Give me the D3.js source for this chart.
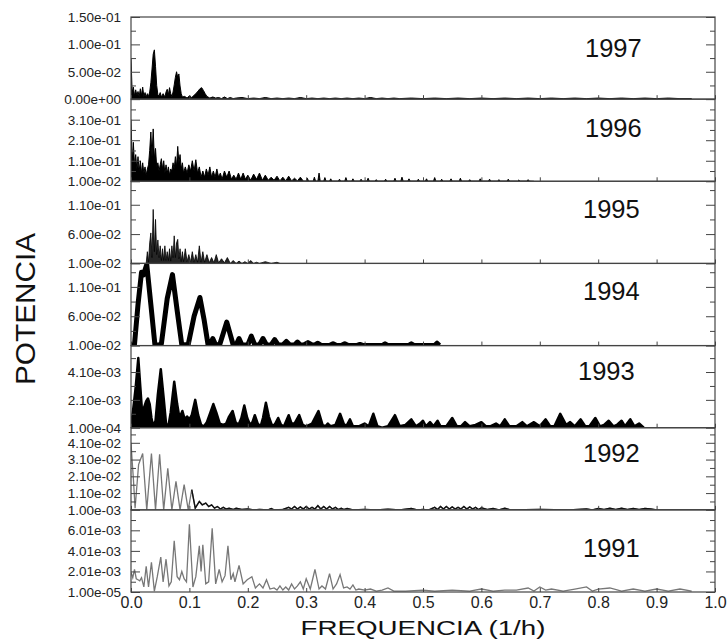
<!DOCTYPE html>
<html><head><meta charset="utf-8">
<script src="https://cdn.jsdelivr.net/npm/d3@7"></script>
<style>body{margin:0;background:#fff;} text{font-family:"Liberation Sans",Arial,Helvetica,sans-serif;}</style>
</head><body><svg id="c" width="727" height="639"></svg>
<script>
// ---------------- DATA ----------------
const years = ["1997","1996","1995","1994","1993","1992","1991"];
const xTicks = [0,0.1,0.2,0.3,0.4,0.5,0.6,0.7,0.8,0.9,1.0];
const xTickLabels = ["0.0","0.1","0.2","0.3","0.4","0.5","0.6","0.7","0.8","0.9","1.0"];

const dom1997 = [0,0.15], tick1997 = [0,0.05,0.1,0.15], lab1997 = ["0.00e+00","5.00e-02","1.00e-01","1.50e-01"], minor1997 = [0.025,0.075,0.125];
const dom1996 = [0.01,0.41], tick1996 = [0.01,0.11,0.21,0.31], lab1996 = ["1.00e-02","1.10e-01","2.10e-01","3.10e-01"], minor1996 = [0.06,0.16,0.26,0.36];
const dom1995 = [0.01,0.15], tick1995 = [0.01,0.06,0.11], lab1995 = ["1.00e-02","6.00e-02","1.10e-01"], minor1995 = [0.035,0.085,0.135];
const dom1994 = [0.01,0.15], tick1994 = [0.01,0.06,0.11], lab1994 = ["1.00e-02","6.00e-02","1.10e-01"], minor1994 = [0.035,0.085,0.135];
const dom1993 = [0.0001,0.006], tick1993 = [0.0001,0.0021,0.0041], lab1993 = ["1.00e-04","2.10e-03","4.10e-03"], minor1993 = [0.0011,0.0031,0.0051];
const dom1992 = [0.001,0.05], tick1992 = [0.001,0.011,0.021,0.031,0.041], lab1992 = ["1.00e-03","1.10e-02","2.10e-02","3.10e-02","4.10e-02"], minor1992 = [0.006,0.016,0.026,0.036,0.046];
const dom1991 = [0.00001,0.008], tick1991 = [0.00001,0.00201,0.00401,0.00601], lab1991 = ["1.00e-05","2.01e-03","4.01e-03","6.01e-03"], minor1991 = [0.00101,0.00301,0.00501,0.00701];

// [frequency (1/h), power]
const data1997 = [[0,0.075],[0.002,0.012],[0.004,0.022],[0.006,0.006],[0.008,0.017],[0.010,0.007],[0.012,0.014],[0.014,0.005],[0.016,0.019],[0.018,0.007],[0.020,0.022],[0.022,0.005],[0.024,0.012],[0.026,0.004],[0.028,0.01],[0.030,0.005],[0.032,0.013],[0.034,0.03],[0.036,0.055],[0.038,0.082],[0.040,0.09],[0.042,0.06],[0.044,0.025],[0.046,0.008],[0.048,0.006],[0.050,0.012],[0.052,0.004],[0.055,0.01],[0.058,0.004],[0.060,0.013],[0.062,0.018],[0.064,0.008],[0.066,0.021],[0.068,0.01],[0.070,0.005],[0.072,0.013],[0.074,0.026],[0.076,0.04],[0.078,0.05],[0.080,0.04],[0.082,0.046],[0.084,0.024],[0.086,0.01],[0.088,0.004],[0.092,0.005],[0.096,0.002],[0.100,0.006],[0.104,0.003],[0.108,0.007],[0.112,0.011],[0.115,0.015],[0.118,0.019],[0.121,0.021],[0.124,0.016],[0.127,0.01],[0.130,0.005],[0.135,0.002],[0.140,0.004],[0.145,0.002],[0.150,0.003],[0.155,0.001],[0.160,0.004],[0.165,0.001],[0.170,0.003],[0.175,0.001],[0.180,0.002],[0.190,0.003],[0.200,0.001],[0.210,0.002],[0.220,0.001],[0.230,0.003],[0.240,0.001],[0.250,0.002],[0.260,0.001],[0.270,0.002],[0.280,0.001],[0.290,0.003],[0.300,0.001],[0.310,0.002],[0.320,0.001],[0.330,0.002],[0.340,0.001],[0.350,0.002],[0.360,0.001],[0.370,0.002],[0.380,0.001],[0.390,0.002],[0.400,0.001],[0.410,0.003],[0.420,0.001],[0.430,0.002],[0.440,0.001],[0.450,0.002],[0.460,0.001],[0.480,0.002],[0.500,0.001],[0.520,0.002],[0.540,0.001],[0.560,0.002],[0.580,0.001],[0.600,0.002],[0.620,0.001],[0.640,0.002],[0.660,0.001],[0.680,0.002],[0.700,0.001],[0.720,0.002],[0.740,0.001],[0.760,0.002],[0.780,0.001],[0.800,0.002],[0.820,0.001],[0.840,0.002],[0.860,0.001],[0.880,0.002],[0.900,0.001],[0.920,0.002],[0.940,0.001],[0.960,0.001]];

const data1996 = [[0,0.31],[0.002,0.1],[0.004,0.2],[0.006,0.09],[0.008,0.14],[0.010,0.07],[0.012,0.13],[0.014,0.06],[0.016,0.11],[0.018,0.05],[0.020,0.1],[0.022,0.05],[0.024,0.08],[0.026,0.04],[0.028,0.07],[0.030,0.09],[0.032,0.16],[0.034,0.25],[0.036,0.13],[0.038,0.265],[0.040,0.12],[0.042,0.17],[0.044,0.08],[0.046,0.1],[0.048,0.06],[0.050,0.09],[0.052,0.12],[0.054,0.07],[0.056,0.11],[0.058,0.05],[0.060,0.09],[0.062,0.05],[0.064,0.08],[0.066,0.04],[0.068,0.07],[0.070,0.06],[0.072,0.1],[0.074,0.07],[0.076,0.13],[0.078,0.08],[0.080,0.18],[0.082,0.1],[0.084,0.14],[0.086,0.07],[0.088,0.1],[0.090,0.05],[0.093,0.08],[0.096,0.05],[0.099,0.09],[0.102,0.06],[0.105,0.11],[0.108,0.06],[0.111,0.115],[0.114,0.05],[0.117,0.08],[0.120,0.03],[0.123,0.06],[0.126,0.03],[0.129,0.07],[0.132,0.04],[0.135,0.08],[0.138,0.03],[0.141,0.06],[0.144,0.03],[0.147,0.07],[0.150,0.03],[0.153,0.05],[0.156,0.02],[0.160,0.06],[0.164,0.03],[0.168,0.06],[0.172,0.02],[0.176,0.04],[0.180,0.02],[0.184,0.05],[0.188,0.02],[0.192,0.05],[0.196,0.02],[0.200,0.04],[0.205,0.015],[0.210,0.045],[0.215,0.02],[0.220,0.05],[0.225,0.015],[0.230,0.04],[0.235,0.015],[0.240,0.03],[0.245,0.015],[0.250,0.035],[0.255,0.012],[0.260,0.03],[0.265,0.012],[0.270,0.035],[0.275,0.012],[0.280,0.025],[0.285,0.012],[0.290,0.03],[0.295,0.011],[0.300,0.011],[0.302,0.025],[0.304,0.011],[0.312,0.011],[0.314,0.03],[0.316,0.011],[0.320,0.011],[0.322,0.05],[0.324,0.011],[0.330,0.011],[0.332,0.028],[0.334,0.011],[0.340,0.011],[0.342,0.022],[0.344,0.011],[0.355,0.011],[0.357,0.02],[0.359,0.011],[0.366,0.011],[0.368,0.028],[0.370,0.011],[0.378,0.011],[0.380,0.022],[0.382,0.011],[0.392,0.011],[0.394,0.02],[0.396,0.011],[0.404,0.011],[0.406,0.025],[0.408,0.011],[0.418,0.011],[0.420,0.018],[0.422,0.011],[0.434,0.011],[0.436,0.02],[0.438,0.011],[0.450,0.011],[0.452,0.025],[0.454,0.011],[0.462,0.011],[0.464,0.03],[0.466,0.011],[0.474,0.011],[0.476,0.022],[0.478,0.011],[0.490,0.011],[0.492,0.02],[0.494,0.011],[0.504,0.011],[0.506,0.022],[0.508,0.011],[0.518,0.011],[0.520,0.028],[0.522,0.011],[0.530,0.011],[0.532,0.02],[0.534,0.011],[0.546,0.011],[0.548,0.022],[0.550,0.011],[0.562,0.011],[0.564,0.025],[0.566,0.011],[0.578,0.011],[0.580,0.018],[0.582,0.011],[0.596,0.011],[0.598,0.022],[0.600,0.011],[0.612,0.011],[0.614,0.02],[0.616,0.011],[0.628,0.011],[0.630,0.018],[0.632,0.011],[0.644,0.011],[0.646,0.02],[0.648,0.011],[0.662,0.011],[0.664,0.016],[0.666,0.011],[0.678,0.011],[0.680,0.018],[0.682,0.011],[0.690,0.01]];

const data1995 = [[0,0.01],[0.026,0.01],[0.028,0.03],[0.030,0.012],[0.032,0.045],[0.034,0.062],[0.036,0.02],[0.038,0.102],[0.040,0.03],[0.042,0.085],[0.044,0.025],[0.046,0.05],[0.048,0.02],[0.050,0.04],[0.052,0.015],[0.054,0.035],[0.056,0.015],[0.058,0.04],[0.060,0.015],[0.062,0.03],[0.064,0.015],[0.066,0.035],[0.068,0.014],[0.070,0.04],[0.072,0.02],[0.074,0.057],[0.076,0.02],[0.078,0.045],[0.080,0.051],[0.082,0.018],[0.084,0.035],[0.086,0.013],[0.088,0.03],[0.090,0.013],[0.093,0.035],[0.096,0.013],[0.099,0.025],[0.102,0.012],[0.105,0.03],[0.108,0.012],[0.111,0.025],[0.114,0.012],[0.117,0.04],[0.120,0.012],[0.123,0.03],[0.126,0.012],[0.130,0.025],[0.134,0.011],[0.138,0.02],[0.142,0.011],[0.146,0.025],[0.150,0.011],[0.155,0.018],[0.160,0.011],[0.165,0.02],[0.170,0.01],[0.175,0.015],[0.180,0.01],[0.185,0.014],[0.190,0.01],[0.195,0.013],[0.200,0.01],[0.205,0.015],[0.210,0.01],[0.215,0.012],[0.220,0.01],[0.230,0.013],[0.240,0.01],[0.250,0.012],[0.255,0.01]];

const data1994 = [[0,0.01],[0.006,0.012],[0.012,0.08],[0.018,0.135],[0.021,0.13],[0.027,0.148],[0.034,0.08],[0.041,0.011],[0.048,0.011],[0.052,0.013],[0.062,0.09],[0.071,0.131],[0.079,0.07],[0.087,0.011],[0.098,0.012],[0.108,0.06],[0.118,0.092],[0.125,0.055],[0.132,0.011],[0.136,0.011],[0.140,0.022],[0.145,0.011],[0.152,0.012],[0.164,0.05],[0.175,0.011],[0.180,0.011],[0.185,0.022],[0.190,0.011],[0.200,0.011],[0.206,0.026],[0.212,0.011],[0.220,0.011],[0.226,0.022],[0.232,0.011],[0.240,0.011],[0.246,0.02],[0.252,0.011],[0.260,0.011],[0.266,0.017],[0.272,0.011],[0.280,0.011],[0.285,0.016],[0.290,0.011],[0.296,0.011],[0.303,0.015],[0.310,0.011],[0.315,0.011],[0.320,0.014],[0.326,0.01],[0.340,0.01],[0.346,0.013],[0.352,0.01],[0.360,0.01],[0.366,0.013],[0.372,0.01],[0.386,0.01],[0.392,0.012],[0.398,0.01],[0.430,0.01],[0.435,0.013],[0.440,0.01],[0.475,0.01],[0.480,0.013],[0.485,0.01],[0.520,0.01],[0.524,0.014],[0.528,0.01]];

const data1993 = [[0,0.0002],[0.004,0.0015],[0.008,0.003],[0.0125,0.0051],[0.016,0.003],[0.019,0.0012],[0.022,0.0015],[0.026,0.002],[0.029,0.0022],[0.032,0.0018],[0.035,0.0008],[0.038,0.0002],[0.042,0.0006],[0.046,0.0025],[0.051,0.0043],[0.056,0.0022],[0.060,0.0004],[0.064,0.0002],[0.068,0.0012],[0.074,0.0034],[0.079,0.0018],[0.083,0.0008],[0.088,0.0013],[0.092,0.0007],[0.096,0.0009],[0.100,0.0007],[0.104,0.001],[0.110,0.0021],[0.115,0.001],[0.120,0.0003],[0.125,0.0002],[0.130,0.0005],[0.136,0.0012],[0.141,0.0018],[0.146,0.0012],[0.152,0.0004],[0.158,0.0003],[0.163,0.0004],[0.168,0.0009],[0.174,0.0013],[0.179,0.0005],[0.184,0.0003],[0.189,0.0008],[0.194,0.0017],[0.199,0.0008],[0.204,0.0003],[0.208,0.0005],[0.212,0.001],[0.217,0.0004],[0.222,0.0002],[0.226,0.0008],[0.231,0.0019],[0.236,0.0009],[0.241,0.0003],[0.246,0.0003],[0.252,0.0008],[0.257,0.0003],[0.262,0.0002],[0.266,0.0006],[0.270,0.001],[0.275,0.0004],[0.280,0.0004],[0.288,0.001],[0.294,0.0003],[0.300,0.0002],[0.310,0.0004],[0.321,0.0013],[0.328,0.0003],[0.333,0.0002],[0.337,0.0004],[0.342,0.0002],[0.350,0.0003],[0.358,0.0011],[0.365,0.0003],[0.370,0.0003],[0.375,0.0007],[0.380,0.0002],[0.390,0.0002],[0.400,0.0004],[0.407,0.0002],[0.415,0.0011],[0.422,0.0002],[0.430,0.0001],[0.440,0.0002],[0.452,0.001],[0.460,0.0002],[0.470,0.0003],[0.480,0.0007],[0.488,0.0002],[0.495,0.0004],[0.500,0.0006],[0.505,0.0002],[0.512,0.0005],[0.518,0.0002],[0.525,0.0006],[0.530,0.0002],[0.540,0.0002],[0.550,0.0008],[0.558,0.0002],[0.565,0.0002],[0.572,0.0005],[0.580,0.0002],[0.590,0.0003],[0.600,0.0005],[0.608,0.0002],[0.615,0.0002],[0.625,0.0004],[0.632,0.0002],[0.640,0.0007],[0.648,0.0002],[0.660,0.0002],[0.670,0.0005],[0.678,0.0002],[0.690,0.0005],[0.700,0.0002],[0.710,0.0007],[0.718,0.0002],[0.725,0.0002],[0.735,0.0011],[0.745,0.0003],[0.752,0.0005],[0.760,0.0002],[0.770,0.0007],[0.778,0.0002],[0.785,0.0002],[0.795,0.0008],[0.803,0.0002],[0.810,0.0003],[0.818,0.0006],[0.826,0.0002],[0.832,0.0003],[0.840,0.0006],[0.846,0.0002],[0.855,0.0007],[0.862,0.0002],[0.870,0.0004],[0.878,0.0001]];

const data1992 = [[0,0.041],[0.002,0.03],[0.004,0.02],[0.007,0.002],[0.013,0.028],[0.020,0.0346],[0.027,0.001],[0.035,0.0346],[0.042,0.001],[0.049,0.0342],[0.056,0.001],[0.063,0.0258],[0.070,0.001],[0.077,0.018],[0.084,0.001],[0.091,0.016],[0.098,0.001],[0.104,0.013],[0.110,0.002],[0.117,0.006],[0.122,0.004],[0.128,0.005],[0.133,0.003],[0.138,0.004],[0.143,0.002],[0.148,0.003],[0.153,0.0015],[0.158,0.0025],[0.163,0.0015],[0.168,0.002],[0.175,0.0012],[0.180,0.002],[0.190,0.0012],[0.200,0.0015],[0.210,0.001],[0.220,0.0012],[0.235,0.001],[0.240,0.0018],[0.245,0.001],[0.260,0.0012],[0.270,0.0025],[0.275,0.0015],[0.280,0.003],[0.285,0.0015],[0.290,0.0028],[0.295,0.0015],[0.300,0.003],[0.305,0.0015],[0.310,0.0025],[0.315,0.0015],[0.320,0.0035],[0.325,0.0015],[0.330,0.003],[0.335,0.0015],[0.340,0.003],[0.345,0.0015],[0.350,0.0025],[0.355,0.0012],[0.360,0.002],[0.365,0.0012],[0.370,0.0018],[0.380,0.001],[0.400,0.0012],[0.420,0.001],[0.440,0.0014],[0.460,0.001],[0.480,0.0018],[0.490,0.001],[0.500,0.0012],[0.510,0.001],[0.520,0.0025],[0.525,0.0012],[0.530,0.003],[0.535,0.0015],[0.540,0.003],[0.545,0.0015],[0.550,0.0028],[0.555,0.0015],[0.560,0.0025],[0.565,0.0015],[0.570,0.003],[0.575,0.0015],[0.580,0.0028],[0.585,0.0015],[0.590,0.0025],[0.595,0.0012],[0.600,0.0022],[0.610,0.0012],[0.620,0.0018],[0.630,0.001],[0.640,0.002],[0.650,0.001],[0.700,0.0012],[0.750,0.001],[0.780,0.0015],[0.790,0.001],[0.800,0.0018],[0.810,0.0012],[0.820,0.002],[0.830,0.0012],[0.840,0.002],[0.850,0.0012],[0.860,0.0018],[0.870,0.0012],[0.880,0.0018],[0.890,0.0015],[0.900,0.001],[0.950,0.001],[1.0,0.001]];

const data1991 = [[0,0.0019],[0.003,0.0014],[0.006,0.0022],[0.009,0.0013],[0.012,0.0012],[0.015,0.0011],[0.018,0.0014],[0.022,0.0005],[0.026,0.0025],[0.030,0.0005],[0.035,0.0029],[0.040,0.0001],[0.045,0.0015],[0.051,0.0034],[0.055,0.001],[0.060,0.0032],[0.065,0.0006],[0.069,0.001],[0.074,0.005],[0.079,0.0015],[0.083,0.0012],[0.087,0.002],[0.091,0.0013],[0.095,0.001],[0.100,0.0066],[0.106,0.0005],[0.111,0.0015],[0.117,0.0045],[0.120,0.002],[0.123,0.0046],[0.128,0.0008],[0.133,0.001],[0.139,0.0062],[0.145,0.0008],[0.151,0.0022],[0.156,0.001],[0.161,0.0016],[0.166,0.0045],[0.171,0.0012],[0.175,0.0018],[0.178,0.001],[0.185,0.0026],[0.192,0.0008],[0.199,0.0012],[0.207,0.0015],[0.213,0.0004],[0.220,0.0008],[0.226,0.0004],[0.232,0.0012],[0.238,0.0003],[0.245,0.0004],[0.250,0.0002],[0.255,0.0006],[0.260,0.0002],[0.265,0.0005],[0.270,0.0002],[0.275,0.0008],[0.280,0.0003],[0.285,0.0006],[0.290,0.001],[0.295,0.0003],[0.300,0.0013],[0.307,0.0003],[0.315,0.0022],[0.322,0.0003],[0.327,0.0006],[0.333,0.0003],[0.340,0.0018],[0.346,0.0003],[0.352,0.0008],[0.358,0.0017],[0.364,0.0004],[0.370,0.0005],[0.375,0.0003],[0.380,0.0007],[0.385,0.0002],[0.390,0.0003],[0.400,0.0002],[0.410,0.0003],[0.420,0.0001],[0.430,0.0002],[0.440,0.0004],[0.450,0.0001],[0.470,0.0001],[0.500,0.0002],[0.520,0.0001],[0.550,0.0002],[0.580,0.0001],[0.600,0.0003],[0.620,0.0001],[0.640,0.0002],[0.660,0.0002],[0.680,0.0004],[0.690,0.0001],[0.700,0.0005],[0.710,0.0002],[0.720,0.0003],[0.740,0.0001],[0.760,0.0003],[0.780,0.0005],[0.790,0.0001],[0.800,0.0003],[0.820,0.0004],[0.840,0.0001],[0.860,0.0003],[0.880,0.0001],[0.900,0.0003],[0.920,0.0001],[0.940,0.0003],[0.960,0.0001]];

// ---------------- CHART ----------------
const svg = d3.select("#c");
const L = 131, R = 715, T = 17, B = 592;
const ph = (B - T) / years.length;
const x = d3.scaleLinear().domain([0, 1]).range([L, R]);

const panels = [
  {year:"1997", data:data1997, dom:dom1997, tick:tick1997, lab:lab1997, minor:minor1997, mode:"fill", yx:585, yb:57},
  {year:"1996", data:data1996, dom:dom1996, tick:tick1996, lab:lab1996, minor:minor1996, mode:"fill", yx:585, yb:137},
  {year:"1995", data:data1995, dom:dom1995, tick:tick1995, lab:lab1995, minor:minor1995, mode:"spike", yx:583, yb:218},
  {year:"1994", data:data1994, dom:dom1994, tick:tick1994, lab:lab1994, minor:minor1994, mode:"thick", yx:583, yb:300},
  {year:"1993", data:data1993, dom:dom1993, tick:tick1993, lab:lab1993, minor:minor1993, mode:"band", yx:578, yb:380},
  {year:"1992", data:data1992, dom:dom1992, tick:tick1992, lab:lab1992, minor:minor1992, mode:"gray2", yx:583, yb:462},
  {year:"1991", data:data1991, dom:dom1991, tick:tick1991, lab:lab1991, minor:minor1991, mode:"gray", yx:583, yb:557}
];

const defs = svg.append("defs");

panels.forEach((p, i) => {
  const top = T + i * ph, bot = top + ph;
  const y = d3.scaleLinear().domain(p.dom).range([bot, top]);
  const g = svg.append("g");
  const cid = "clip" + i;
  defs.append("clipPath").attr("id", cid).append("rect")
    .attr("x", L).attr("y", top).attr("width", R - L).attr("height", ph);

  const dg = g.append("g").attr("clip-path", `url(#${cid})`);
  const line = d3.line().x(d => x(d[0])).y(d => y(d[1]));
  const area = d3.area().x(d => x(d[0])).y0(y(p.dom[0])).y1(d => y(d[1]));

  if (p.mode === "fill") {
    dg.append("path").datum(p.data).attr("d", area).attr("fill", "#000");
    dg.append("path").datum(p.data).attr("d", line).attr("fill", "none").attr("stroke", "#000").attr("stroke-width", 1);
  } else if (p.mode === "spike") {
    dg.append("path").datum(p.data).attr("d", area).attr("fill", "#000").attr("fill-opacity", 0.85);
    dg.append("path").datum(p.data).attr("d", line).attr("fill", "none").attr("stroke", "#000").attr("stroke-width", 0.8);
  } else if (p.mode === "thick") {
    dg.append("path").datum(p.data).attr("d", line).attr("fill", "none").attr("stroke", "#000")
      .attr("stroke-width", 5).attr("stroke-linejoin", "round");
  } else if (p.mode === "band") {
    dg.append("path").datum(p.data).attr("d", area).attr("fill", "#000");
    dg.append("path").datum(p.data).attr("d", line).attr("fill", "none").attr("stroke", "#000")
      .attr("stroke-width", 2.5).attr("stroke-linejoin", "round");
  } else if (p.mode === "gray2") {
    dg.append("path").datum(p.data).attr("d", line).attr("fill", "none").attr("stroke", "#777").attr("stroke-width", 1.3);
    dg.append("path").datum(p.data.filter(d => d[0] >= 0.104)).attr("d", line).attr("fill", "none")
      .attr("stroke", "#111").attr("stroke-width", 1.4);
  } else {
    dg.append("path").datum(p.data).attr("d", line).attr("fill", "none").attr("stroke", "#777").attr("stroke-width", 1.3);
  }

  // left axis: major ticks with labels
  const la = g.append("g").attr("transform", `translate(${L},0)`)
    .call(d3.axisLeft(y).tickValues(p.tick).tickSizeInner(-9).tickSizeOuter(0).tickPadding(10)
      .tickFormat((d, k) => p.lab[k]));
  la.select(".domain").remove();
  la.selectAll("line").attr("stroke", "#444");
  la.selectAll("text").attr("font-size", 13.5).attr("fill", "#222")
    .attr("font-family", "'Liberation Sans', Arial, sans-serif");
  const lm = g.append("g").attr("transform", `translate(${L},0)`)
    .call(d3.axisLeft(y).tickValues(p.minor).tickSize(-5).tickFormat(""));
  lm.select(".domain").remove();
  lm.selectAll("line").attr("stroke", "#444");

  // right axis ticks
  const ra = g.append("g").attr("transform", `translate(${R},0)`)
    .call(d3.axisRight(y).tickValues(p.tick).tickSize(-9).tickFormat(""));
  ra.select(".domain").remove();
  ra.selectAll("line").attr("stroke", "#444");
  const rm = g.append("g").attr("transform", `translate(${R},0)`)
    .call(d3.axisRight(y).tickValues(p.minor).tickSize(-5).tickFormat(""));
  rm.select(".domain").remove();
  rm.selectAll("line").attr("stroke", "#444");

  // x ticks at panel bottom
  const xa = g.append("g").attr("transform", `translate(0,${bot})`)
    .call(d3.axisBottom(x).tickValues(xTicks).tickSize(-4).tickPadding(5)
      .tickFormat((d, k) => i === panels.length - 1 ? xTickLabels[k] : ""));
  xa.select(".domain").remove();
  xa.selectAll("line").attr("stroke", "#444");
  xa.selectAll("text").attr("font-size", 16).attr("fill", "#222")
    .attr("font-family", "'Liberation Sans', Arial, sans-serif");

  // panel frame
  g.append("rect").attr("x", L).attr("y", top).attr("width", R - L).attr("height", ph)
    .attr("fill", "none").attr("stroke", "#444").attr("stroke-width", 1.2);

  // year label
  g.append("text").attr("x", p.yx).attr("y", p.yb).text(p.year)
    .attr("font-size", 25.5).attr("fill", "#111");
});

// axis titles
svg.append("text").attr("transform", "translate(35,309) rotate(-90)")
  .attr("text-anchor", "middle").attr("font-size", 28).attr("fill", "#111")
  .attr("textLength", 152).attr("lengthAdjust", "spacingAndGlyphs").text("POTENCIA");
svg.append("text").attr("x", 423).attr("y", 634.5)
  .attr("text-anchor", "middle").attr("font-size", 21).attr("fill", "#111")
  .attr("textLength", 245).attr("lengthAdjust", "spacingAndGlyphs").text("FREQUENCIA (1/h)");
</script>
</body></html>
